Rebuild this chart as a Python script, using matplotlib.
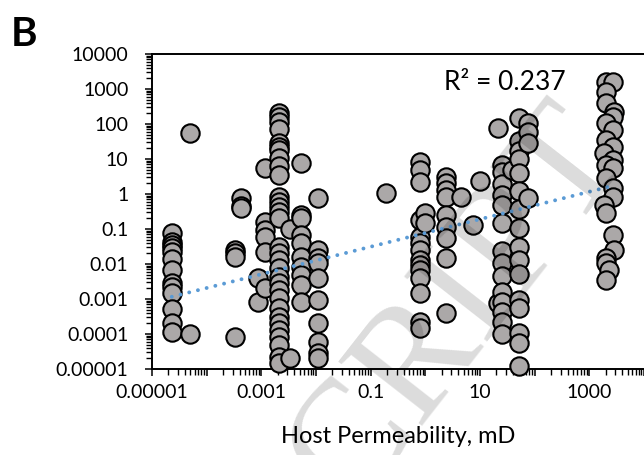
import matplotlib
matplotlib.use("Agg")
import matplotlib.pyplot as plt
import numpy as np
from matplotlib.ticker import FixedLocator, FuncFormatter, LogLocator, NullFormatter

plt.rcParams["font.family"] = ["Lato", "DejaVu Sans"]

# Host permeability (mD) and measured value for each sample
permeability_md = (
    [2.3e-5] * 13
    + [4.9e-5] * 2
    + [3.3e-4] * 4
    + [4.2e-4] * 3
    + [8.7e-4] * 2
    + [1.16e-3] * 6
    + [2.1e-3] * 31
    + [3.3e-3] * 2
    + [5.4e-3] * 10
    + [0.011] * 10
    + [0.19]
    + [0.81] * 14
    + [1.0] * 2
    + [2.4] * 9
    + [4.5, 7.3, 10.2]
    + [21] * 2
    + [25] * 14
    + [39]
    + [52] * 16
    + [77] * 4
    + [2020, 2750, 2020, 2020, 2870, 2750, 2020, 2750, 2020, 2750, 1880, 2750,
       2020, 2750, 2020, 2750, 2750, 1880, 2020, 2750, 2870, 2020, 2020, 2300, 2020]
)

values = (
    [0.078, 0.043, 0.035, 0.028, 0.022, 0.0136, 0.0067, 0.0028, 0.0022, 0.0015,
     0.00051, 0.0002, 0.000116]
    + [0.000098, 54]
    + [0.025, 0.02, 0.0155, 0.0000838]
    + [0.75, 0.45, 0.39]
    + [0.0041, 0.00084]
    + [5.4, 0.16, 0.094, 0.06, 0.022, 0.002]
    + [202, 162, 116, 71, 28, 22, 18, 10.5, 6.3, 3.5, 0.84, 0.6, 0.43, 0.31, 0.2,
       0.031, 0.02, 0.013, 0.0075, 0.0043, 0.0028, 0.0018, 0.00105, 0.00054,
       0.00031, 0.0002, 0.00013, 0.0000838, 0.0000485, 0.0000224, 0.0000146]
    + [0.0000202, 0.098]
    + [7.8, 0.25, 0.2, 0.067, 0.039, 0.016, 0.0084, 0.0049, 0.0025, 0.00084]
    + [0.75, 0.025, 0.0146, 0.0105, 0.0039, 0.00094, 0.0002, 0.00006, 0.000028,
       0.00002]
    + [1.05]
    + [8.4, 4.9, 2.25, 0.18, 0.06, 0.039, 0.025, 0.013, 0.0094, 0.0067, 0.0039,
       0.00146, 0.000225, 0.000146]
    + [0.28, 0.146]
    + [3.1, 2.0, 1.3, 0.84, 0.25, 0.116, 0.054, 0.0146, 0.00041]
    + [0.84, 0.126, 2.4]
    + [78, 0.00079]
    + [6.7, 4.3, 1.9, 0.94, 0.49, 0.146, 0.023, 0.0105, 0.0045, 0.0016, 0.0008,
       0.00043, 0.00022, 0.0001]
    + [4.9]
    + [146, 33, 17, 10, 3.9, 1.2, 0.37, 0.107, 0.031, 0.013, 0.0052, 0.00094,
       0.00054, 0.000105, 0.000054, 0.0000122]
    + [105, 60, 28, 0.79]
    + [1620, 1620, 840, 390, 224, 162, 105, 67, 35, 22, 14.6, 9.4, 6.7, 5.4, 2.8,
       1.46, 0.84, 0.49, 0.28, 0.067, 0.025, 0.0146, 0.0105, 0.0067, 0.0035]
)

# Power-law trend y = a * x^b
trend_a = 0.077
trend_b = 0.393
r_squared_text = "R² = 0.237"

x_tick_labels = ["0.00001", "0.001", "0.1", "10", "1000"]
y_tick_labels = ["0.00001", "0.0001", "0.001", "0.01", "0.1", "1", "10", "100",
                 "1000", "10000"]

W, H = 644, 455
fig = plt.figure(figsize=(W / 100, H / 100), dpi=100)
ax = fig.add_axes([152 / W, 1 - 369 / H, (W - 152) / W, (369 - 54) / H])

ax.set_xscale("log")
ax.set_yscale("log")
ax.set_xlim(1e-5, 1e4)
ax.set_ylim(1e-5, 1e4)

x = np.array(permeability_md)
y = np.array(values)
ax.scatter(x, y, s=175, facecolor="#ABA8A8", edgecolor="black", linewidths=1.5,
           zorder=3, clip_on=False)

xt = np.logspace(np.log10(x.min()), np.log10(x.max()), 200)
ax.plot(xt, trend_a * xt ** trend_b, color="#5B9BD5", lw=2.8,
        linestyle=(0, (0.01, 2.3)), dash_capstyle="round", zorder=4)

# Axis ticks: every decade, x labels on every second decade
x_major = [10.0 ** k for k in range(-5, 5)]
ax.xaxis.set_major_locator(FixedLocator(x_major))
x_label_map = {10.0 ** (-5 + 2 * i): lab for i, lab in enumerate(x_tick_labels)}


def fmt_x(v, pos):
    for k, lab in x_label_map.items():
        if abs(np.log10(v) - np.log10(k)) < 1e-6:
            return lab
    return ""


ax.xaxis.set_major_formatter(FuncFormatter(fmt_x))
y_major = [10.0 ** k for k in range(-5, 5)]
ax.yaxis.set_major_locator(FixedLocator(y_major))
ax.yaxis.set_major_formatter(FuncFormatter(lambda v, p: y_tick_labels[int(round(np.log10(v))) + 5]))
for a in (ax.xaxis, ax.yaxis):
    a.set_minor_locator(LogLocator(base=10, subs=np.arange(2, 10), numticks=20))
    a.set_minor_formatter(NullFormatter())

ax.tick_params(which="major", direction="out", length=5, width=1.1, labelsize=14,
               color="black", labelcolor="black")
ax.tick_params(which="minor", direction="out", length=4, width=1.0)
ax.tick_params(axis="y", which="major", pad=12)
ax.tick_params(axis="x", which="major", pad=6)

for side in ("left", "bottom", "top"):
    ax.spines[side].set_linewidth(1.4)
ax.spines["right"].set_visible(False)

ax.set_xlabel("Host Permeability, mD", fontsize=17, labelpad=18)

ax.text(0.717, 0.911, r_squared_text, transform=ax.transAxes, fontsize=19,
        ha="center", va="center")
fig.text(24 / W, 1 - 35 / H, "B", fontsize=29, fontweight="bold", ha="center",
         va="center")

# Faint diagonal manuscript stamp across the panel
fig.text(431 / W, 1 - 337 / H, "SCRIPT", fontsize=115,
         family="Liberation Serif", color="black", alpha=0.14, rotation=52,
         rotation_mode="anchor", ha="center", va="center", zorder=10)

fig.savefig("out.png", dpi=100)
